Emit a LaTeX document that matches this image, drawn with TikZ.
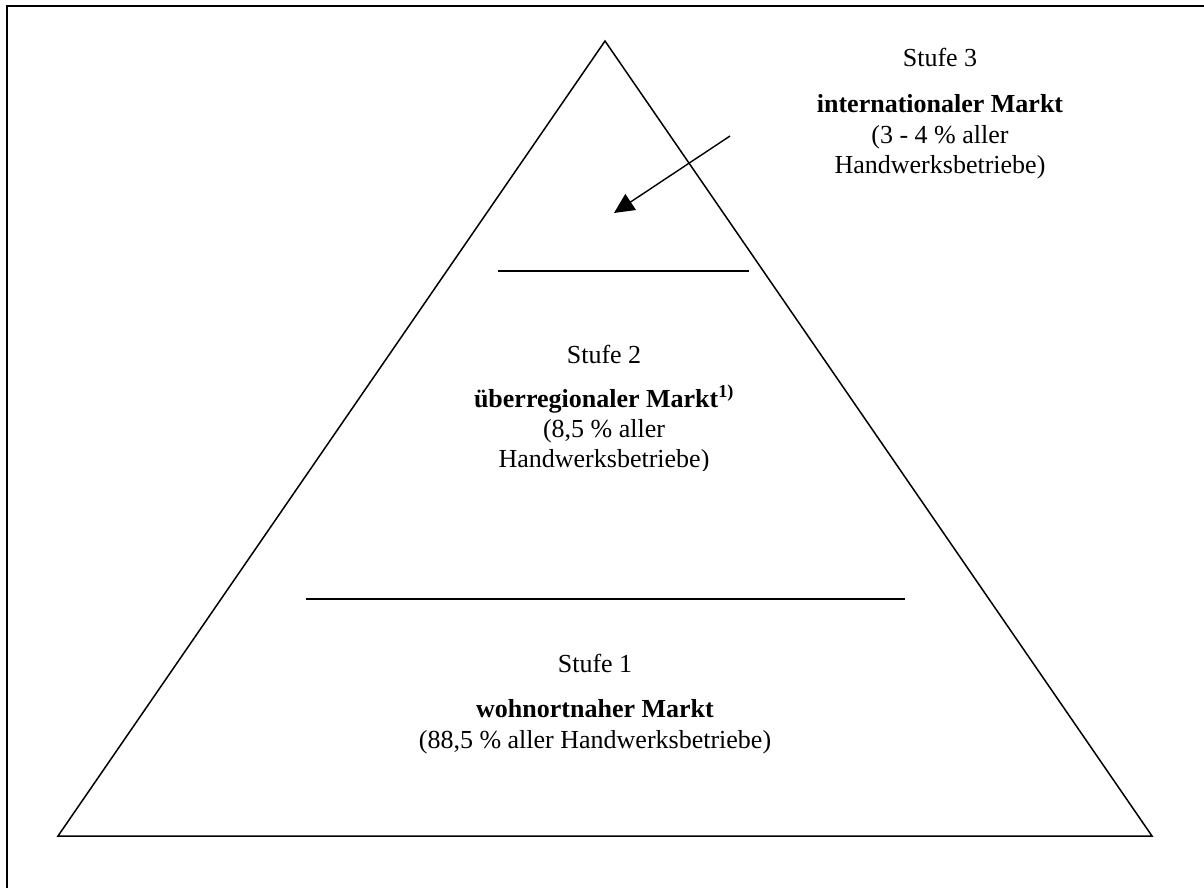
\documentclass[tikz,border=0pt]{standalone}
\usepackage{fontspec}
\setmainfont{Liberation Serif}
\usetikzlibrary{arrows.meta}
\tikzset{
  stufe/.style={anchor=base, inner sep=0pt, font=\fontsize{26}{30}\selectfont},
  markt/.style={anchor=base, inner sep=0pt, font=\fontsize{26}{30}\selectfont\bfseries},
  grenze/.style={line width=2pt},
}
\begin{document}
\begin{tikzpicture}[x=1pt, y=-1pt, >={Triangle[length=20pt,width=19pt]}]
        \useasboundingbox (0,0) rectangle (1204,888);
        % Rahmen
        \draw[line width=2.2pt] (7,895) -- (7,6) -- (1210,6);

        % Pyramide
        \coordinate (spitze) at (605,41);
        \coordinate (links) at (58,836);
        \coordinate (rechts) at (1152,836);
        \draw[line width=1.5pt, line join=miter] (links) -- (spitze) -- (rechts) -- cycle;

        % Trennlinien
        \coordinate (g2a) at (498,271);
        \coordinate (g2b) at (749,271);
        \coordinate (g1a) at (306,599);
        \coordinate (g1b) at (905,599);
        \draw[grenze] (g2a) -- (g2b);
        \draw[grenze] (g1a) -- (g1b);

        % Stufe 3
        \node[stufe] (s3) at (940,67) {Stufe 3};
        \node[markt] (m3) at ([yshift=-46pt]s3.base) {internationaler Markt};
        \node[stufe] (a3) at ([yshift=-30pt]m3.base) {(3 - 4 \% aller};
        \node[stufe] (b3) at ([yshift=-30pt]a3.base) {Handwerksbetriebe)};

        % Stufe 2 (letzte Zeile unten abgeschnitten)
        \node[stufe] (s2) at (604,363) {Stufe 2};
        \node[markt] (m2) at ([yshift=-44pt]s2.base) {überregionaler Markt\textsuperscript{1)}};
        \node[stufe] (a2) at ([yshift=-30pt]m2.base) {(8,5 \% aller};
        \begin{scope}
          \clip (450,440) rectangle (760,470);
          \node[stufe] (b2) at ([yshift=-30pt]a2.base) {Handwerksbetriebe)};
        \end{scope}

        % Stufe 1
        \node[stufe] (s1) at (595,672) {Stufe 1};
        \node[markt] (m1) at ([yshift=-45pt]s1.base) {wohnortnaher Markt};
        \node[stufe] (a1) at ([yshift=-31pt]m1.base) {(88,5 \% aller Handwerksbetriebe)};

        % Pfeil
        \coordinate (pfeilstart) at (730,136);
        \coordinate (pfeilziel) at (614,213);
        \draw[->, line width=1.4pt] (pfeilstart) -- (pfeilziel);
\end{tikzpicture}
\end{document}
